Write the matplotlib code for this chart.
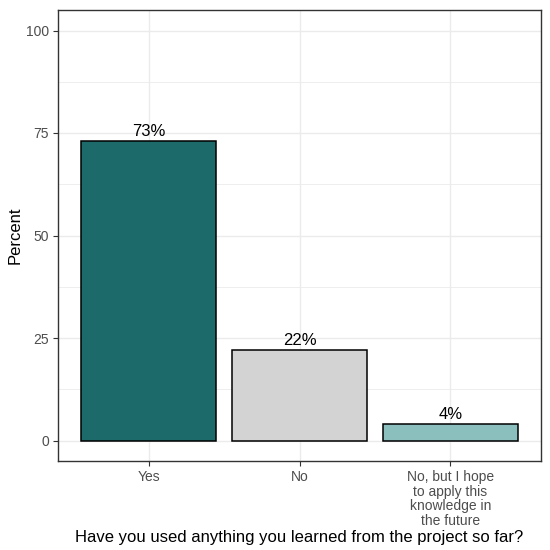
import matplotlib
matplotlib.use("Agg")
import matplotlib.pyplot as plt
import numpy as np

categories = ["Yes", "No", "No, but I hope\nto apply this\nknowledge in\nthe future"]
values = [73, 22, 4]
labels = ["73%", "22%", "4%"]
colors = ["#1d6a6a", "#d3d3d3", "#8abfbd"]
yticks = [0, 25, 50, 75, 100]

plt.rcParams['font.family'] = ['Liberation Sans', 'DejaVu Sans']

fig = plt.figure(figsize=(5.5, 5.5), dpi=100)
ax = fig.add_axes([58/550, 1-461/550, (541-58)/550, (461-10)/550])

x = np.arange(1, len(categories)+1)
ax.bar(x, values, width=0.9, color=colors, edgecolor="black", linewidth=1.1, zorder=3)
for xi, v, lab in zip(x, values, labels):
    ax.text(xi, v + 0.6, lab, ha="center", va="bottom", fontsize=12, color="black", zorder=4)

ax.set_xlim(0.4, 3.6)
ax.set_ylim(-5, 105)
ax.set_yticks(yticks)
ax.set_yticks([12.5, 37.5, 62.5, 87.5], minor=True)
ax.set_xticks(x)
ax.set_xticklabels(categories, fontsize=10, color="#4d4d4d", linespacing=1.05)
ax.tick_params(axis="y", labelsize=10, labelcolor="#4d4d4d", color="#333333", length=3.5, pad=3)
ax.tick_params(axis="x", color="#333333", length=3.5, pad=3)
ax.tick_params(which="minor", length=0)
ax.grid(True, which="major", color="#ebebeb", linewidth=1.0, zorder=0)
ax.grid(True, which="minor", axis="y", color="#ebebeb", linewidth=0.6, zorder=0)
ax.set_axisbelow(True)
for s in ax.spines.values():
    s.set_color("#333333")
    s.set_linewidth(1.0)

ax.set_ylabel("Percent", fontsize=12, labelpad=2)
ax.set_xlabel("Have you used anything you learned from the project so far?", fontsize=12, labelpad=2)

fig.savefig("out.png", dpi=100)
